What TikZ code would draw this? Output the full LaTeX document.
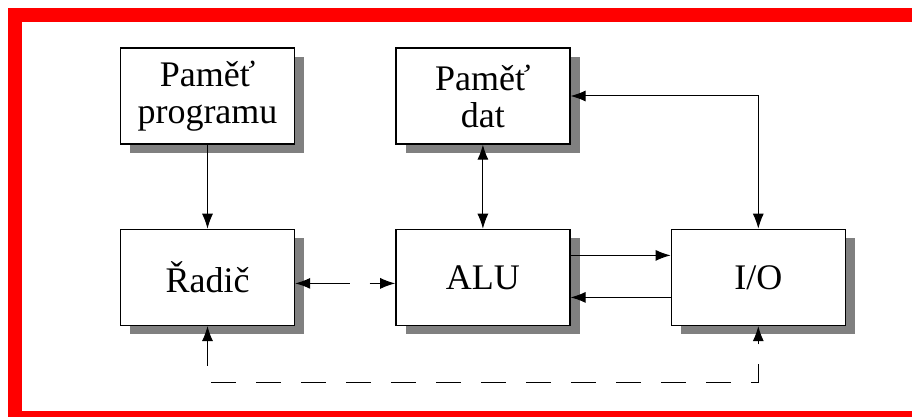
\documentclass[tikz,border=0pt]{standalone}
\usepackage{fontspec}
\setmainfont{Liberation Serif}
\usetikzlibrary{arrows.meta, positioning, shadows}

\begin{document}
\begin{tikzpicture}[
    x=0.5pt, y=-0.5pt,
    node distance=42pt and 50pt,
    block/.style={rectangle, draw=black, line width=0.7pt, fill=white, minimum width=87pt, minimum height=48pt, align=center, font=\fontsize{18}{18.5}\selectfont, drop shadow={shadow xshift=4.8pt, shadow yshift=-4.3pt, fill=black!50, opacity=1}},
    arrow/.style={-{Latex[length=7.5pt,width=5.5pt]}, line width=0.5pt},
    darrow/.style={{Latex[length=7.5pt,width=5.5pt]}-{Latex[length=7.5pt,width=5.5pt]}, line width=0.5pt},
    frame/.style={fill=red}
]
\useasboundingbox (0,0) rectangle (912,417);

% Red frame (top, left and bottom bands)
\fill[frame] (8,8) rectangle (912,22);
\fill[frame] (8,8) rectangle (22,417);
\fill[frame] (8,411) rectangle (912,417);

% Row 1: memories
\node[block] (prog) at (207.5,96) {Paměť\\programu};

% Row 2: control unit, ALU, I/O
\node[block, below=of prog] (radic) {Řadič};
\node[block, right=of radic] (alu) {ALU};
\node[block, right=of alu] (io) {I/O};
\node[block, above=of alu] (dat) {Paměť\\dat};

% Program memory to control unit
\draw[arrow] (prog.south) -- (prog.south |- radic.north);

% Data memory links
\draw[darrow] (dat) -- (alu);
\draw[darrow] (dat) -| (io);

% ALU and I/O
\draw[arrow] ([yshift=11pt]alu.east) -- ([yshift=11pt]io.west);
\draw[arrow] ([yshift=-10pt]io.west) -- ([yshift=-10pt]alu.east);

% Control lines (dashed)
\draw[darrow, dash pattern=on 20pt off 10pt] ([yshift=-3pt]radic.east) -- ([yshift=-3pt]alu.west);
\draw[darrow, dash pattern=on 12.5pt off 10pt] (radic.south) -- ++(0,56) -| (io.south);

\end{tikzpicture}
\end{document}
